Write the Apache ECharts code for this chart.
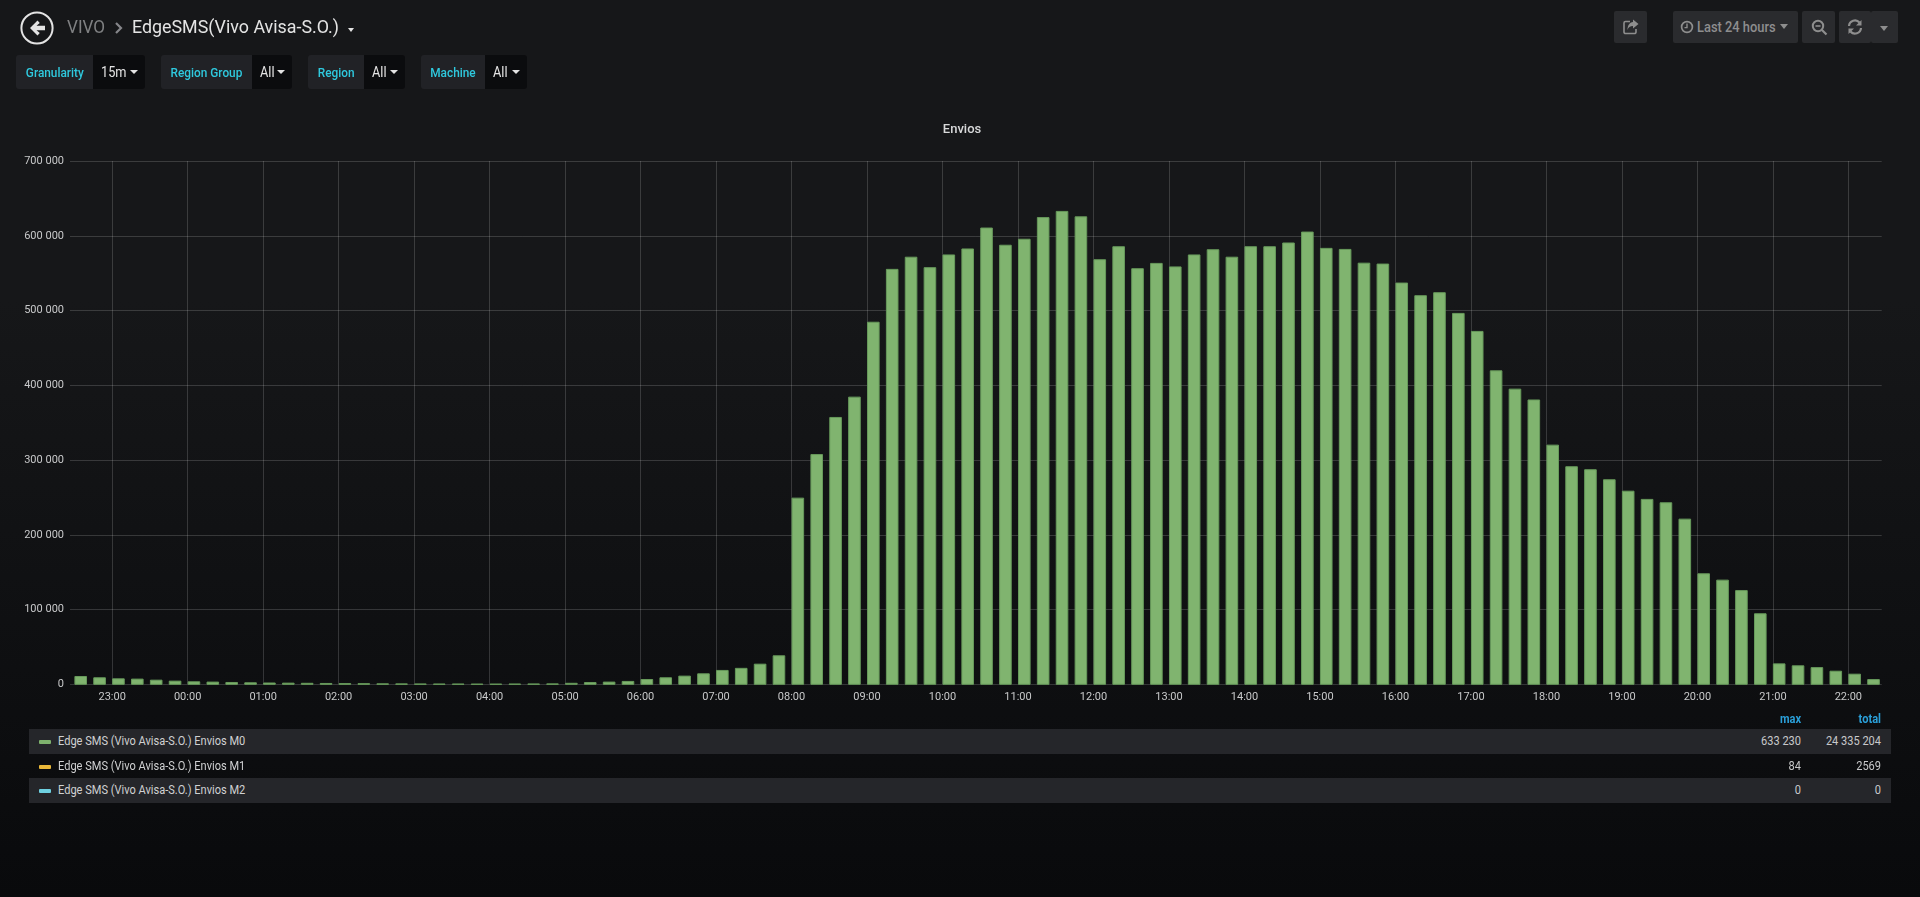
<!DOCTYPE html>
<html>
<head>
<meta charset="utf-8">
<script src="https://cdn.jsdelivr.net/npm/echarts@6/dist/echarts.min.js"></script>
<style>
html,body{margin:0;padding:0;width:1920px;height:897px;overflow:hidden;font-family:Roboto,sans-serif;
 background:linear-gradient(180deg,#161719 0,#161719 300px,#090a0c 897px);}
.abs{position:absolute;white-space:nowrap;}
#chart{position:absolute;left:0;top:0;width:1920px;height:897px;}
.lbl{background:#212226;color:#2fc9de;font-size:13px;font-weight:500;line-height:35px;height:34px;border-radius:3px 0 0 3px;top:55px;display:flex;justify-content:center;}
.lbl span,.val span{display:inline-block;transform:scaleX(.91);}
.lbl span{transform-origin:center;}
.val span{transform-origin:left;}
.val{background:#0b0c0e;color:#e4e4e4;font-size:14px;line-height:35px;height:34px;top:55px;border-radius:0 3px 3px 0;box-sizing:border-box;padding-left:8px;}
.caret{position:absolute;width:0;height:0;border-left:4.5px solid transparent;border-right:4.5px solid transparent;border-top:4.5px solid #e4e4e4;}
.btn{background:#2a2b2e;top:11px;height:32px;border-radius:2px;}
.row{left:29px;width:1862px;}
.rowtxt{font-size:12px;color:#d0d1d2;transform:scaleX(.92);transform-origin:left;}
.swatch{left:39px;width:12px;height:4px;border-radius:1px;}
.num{font-size:12px;color:#c8c9ca;text-align:right;transform:scaleX(.92);transform-origin:right;}
.hd{font-size:12px;font-weight:700;color:#2a9fd8;text-align:right;transform:scaleX(.92);transform-origin:right;}
.crumb{transform:scaleX(.95);transform-origin:left;}
</style>
</head>
<body>
<div id="chart"></div>
<div id="ui"></div>
<script>
// Data
const startLabel = "22:30";
const stepMinutes = 15;
const m0Values = [
 11100,9400,8000,7600,6200,4900,4000,3600,3100,2700,
 2400,2200,2000,1800,1600,1500,1300,1200,1100,1000,1000,900,900,1000,1100,1200,
 2000,3000,3600,4500,
 7100,9400,11600,14700,19200,22000,27600,38800,
 249700,308000,357600,384800,
 485000,555700,572000,558000,575000,583000,611000,588000,596000,625000,633230,626000,
 568600,586000,556600,563700,559000,575000,582000,572000,586000,586000,591000,605600,
 583800,582400,564000,562800,537400,520500,524500,496800,472700,420000,395500,381000,
 320600,291700,287700,274300,259000,248000,243500,221600,
 148500,140000,126000,95000,28000,25400,23000,18200,14200,7000
];
const m1Values = [];
const m2Values = [];
const yTicks = {min:0,max:700000,interval:100000};
const seriesNames = ["Edge SMS (Vivo Avisa-S.O.) Envios M0","Edge SMS (Vivo Avisa-S.O.) Envios M1","Edge SMS (Vivo Avisa-S.O.) Envios M2"];
const seriesColors = ["#7EB26D","#EAB839","#6ED0E0"];
const legendMax = ["633 230","84","0"];
const legendTotal = ["24 335 204","2569","0"];
const variables = [["Granularity","15m"],["Region Group","All"],["Region","All"],["Machine","All"]];
const panelTitle = "Envios";

// ---- dashboard chrome
const ui = document.getElementById('ui');
function add(html){ui.insertAdjacentHTML('beforeend',html);}
function box(cls,l,w,txt,extra){add(`<div class="abs ${cls}" style="left:${l}px;width:${w}px;${extra||''}">${txt?'<span>'+txt+'</span>':''}</div>`);}
// back button + breadcrumbs
add(`<svg class="abs" style="left:20px;top:11px" width="34" height="34" viewBox="0 0 34 34"><circle cx="17" cy="17" r="15.6" fill="none" stroke="#e3e3e3" stroke-width="2"/><path d="M17.5 9.5 L10 17 L17.5 24.5 L19.8 22 L16.5 19.3 L25 19.3 L25 14.7 L16.5 14.7 L19.8 12 Z" fill="#e3e3e3"/></svg>`);
add(`<div class="abs crumb" style="left:67px;top:15px;font-size:18px;line-height:24px;color:#7f8082">VIVO</div>`);
add(`<svg class="abs" style="left:114px;top:21px" width="10" height="14" viewBox="0 0 10 14"><path d="M2 2 L7 7 L2 12" fill="none" stroke="#85868a" stroke-width="2.2"/></svg>`);
add(`<div class="abs crumb" style="left:132px;top:15px;font-size:18.8px;line-height:24px;color:#e4e4e4">EdgeSMS(Vivo Avisa-S.O.)</div>`);
add(`<div class="caret" style="left:348px;top:28px;border-left-width:3.5px;border-right-width:3.5px;border-top-width:4px"></div>`);
// template variables
const varGeom = [[16,77,145],[161,91,292],[308,56,405],[421,63.5,526.5]];
variables.forEach((v,i)=>{
  const g=varGeom[i];
  box('lbl',g[0],g[1],v[0]);
  box('val',g[0]+g[1],g[2]-g[0]-g[1],v[1]);
  add(`<div class="caret" style="left:${g[2]-15}px;top:70px"></div>`);
});
// top right buttons
box('btn',1614,33);
box('btn',1673,125);
box('btn',1802,33);
box('btn',1839,32);
box('btn',1871,27);
add(`<svg class="abs" style="left:1622px;top:18px" width="18" height="18" viewBox="0 0 18 18"><path d="M8 3.5H3.5a1.5 1.5 0 0 0-1.5 1.5v9a1.5 1.5 0 0 0 1.5 1.5h9a1.5 1.5 0 0 0 1.5-1.5v-3" fill="none" stroke="#8e8e8e" stroke-width="1.6"/><path d="M11 1.5 L16.5 6 L11 10.5 V8 C8 8 6.5 9 5.5 12 C5.5 7.5 7.5 4.5 11 4 Z" fill="#8e8e8e"/></svg>`);
add(`<svg class="abs" style="left:1680px;top:20px" width="14" height="14" viewBox="0 0 14 14"><circle cx="7" cy="7" r="5.4" fill="none" stroke="#8e8e8e" stroke-width="1.7"/><path d="M7 3.5V7.6H4.5" fill="none" stroke="#8e8e8e" stroke-width="1.4"/></svg>`);
add(`<div class="abs" style="left:1697px;top:18px;font-size:14px;font-weight:500;line-height:18px;color:#8e8e8e;transform:scaleX(.92);transform-origin:left">Last 24 hours</div>`);
add(`<div class="caret" style="left:1780px;top:24px;border-top:5px solid #8e8e8e"></div>`);
add(`<svg class="abs" style="left:1811px;top:19px" width="17" height="17" viewBox="0 0 17 17"><circle cx="7" cy="7" r="5.2" fill="none" stroke="#8e8e8e" stroke-width="2"/><path d="M11 11 L15.5 15.5" stroke="#8e8e8e" stroke-width="2.2"/><path d="M4.5 7H9.5" stroke="#8e8e8e" stroke-width="1.6"/></svg>`);
add(`<svg class="abs" style="left:1847px;top:19px" width="16" height="16" viewBox="0 0 16 16"><path d="M2 7 A6 6 0 0 1 12.5 3.5" fill="none" stroke="#8e8e8e" stroke-width="2.2"/><path d="M14.5 1 V6.5 H9 Z" fill="#8e8e8e"/><path d="M14 9 A6 6 0 0 1 3.5 12.5" fill="none" stroke="#8e8e8e" stroke-width="2.2"/><path d="M1.5 15 V9.5 H7 Z" fill="#8e8e8e"/></svg>`);
add(`<div class="caret" style="left:1880px;top:26px;border-top:5px solid #8e8e8e"></div>`);
// legend table
add(`<div class="abs hd" style="left:1701px;width:100px;top:712px;line-height:15px">max</div>`);
add(`<div class="abs hd" style="left:1781px;width:100px;top:712px;line-height:15px">total</div>`);
const rowTop=[729,754,778], rowH=[25,24,25];
seriesNames.forEach((n,i)=>{
  if(i!==1) add(`<div class="abs row" style="top:${rowTop[i]}px;height:${rowH[i]}px;background:#25262a"></div>`);
  add(`<div class="abs swatch" style="top:${rowTop[i]+11}px;background:${seriesColors[i]}"></div>`);
  add(`<div class="abs rowtxt" style="left:58px;top:${rowTop[i]}px;line-height:24px">${n}</div>`);
  add(`<div class="abs num" style="left:1661px;width:140px;top:${rowTop[i]}px;line-height:24px">${legendMax[i]}</div>`);
  add(`<div class="abs num" style="left:1741px;width:140px;top:${rowTop[i]}px;line-height:24px">${legendTotal[i]}</div>`);
});

// ---- chart
const MIN = 60000;
const [sh,sm] = startLabel.split(':').map(Number);
const t0 = new Date(2020,0,14,sh,sm,0,0).getTime();
const times = m0Values.map((_,k)=>t0+k*stepMinutes*MIN);
const pairs = (arr)=>arr.map((v,k)=>[times[k],v]);
const fmtY = v => String(v).replace(/\B(?=(\d{3})+$)/g,' ');
const gridCol = 'rgba(255,255,255,0.16)';
// Grafana draws each bar starting at its timestamp, so the bar is left-aligned on the time scale
const barPx = 11.6;
const renderBar = (fill,stroke)=>(params,api)=>{
  const base = api.coord([api.value(0),0]);
  const top = api.coord([api.value(0),api.value(1)]);
  return {type:'rect',shape:{x:base[0]+0.5,y:top[1]+0.5,width:barPx,height:base[1]-top[1]-0.5},
          style:{fill:fill,stroke:stroke,lineWidth:1}};
};
const chart = echarts.init(document.getElementById('chart'),null,{renderer:'canvas',width:1920,height:897});
chart.setOption({
  animation:false,
  backgroundColor:'transparent',
  title:{text:panelTitle,left:957,top:118,textAlign:'center',textStyle:{color:'#d8d9da',fontFamily:'Roboto',fontSize:13,fontWeight:500}},
  grid:{left:70,top:161,width:1811.7,height:523.3,containLabel:false},
  xAxis:{type:'time',min:t0-3.5*MIN,max:t0+(24*60-3.5)*MIN,minInterval:3600000,maxInterval:3600000,
    axisLine:{show:false},axisTick:{show:false},
    axisLabel:{color:'#c8c9ca',fontFamily:'Roboto',fontSize:11,margin:7,hideOverlap:false,showMinLabel:false,showMaxLabel:false,
      formatter:(v)=>{const d=new Date(v);return String(d.getHours()).padStart(2,'0')+':'+String(d.getMinutes()).padStart(2,'0');}},
    splitLine:{show:true,showMinLine:false,showMaxLine:false,lineStyle:{color:gridCol,width:1}}},
  yAxis:{type:'value',min:yTicks.min,max:yTicks.max,interval:yTicks.interval,
    axisLine:{show:false},axisTick:{show:false},
    axisLabel:{color:'#c8c9ca',fontFamily:'Roboto',fontSize:11,margin:6,formatter:fmtY},
    splitLine:{show:true,lineStyle:{color:gridCol,width:1}}},
  series:[
    {name:seriesNames[0],type:'custom',data:pairs(m0Values),encode:{x:0,y:1},renderItem:renderBar('#80b46f','#679a5b')},
    {name:seriesNames[1],type:'custom',data:pairs(m1Values),encode:{x:0,y:1},renderItem:renderBar(seriesColors[1],seriesColors[1])},
    {name:seriesNames[2],type:'custom',data:pairs(m2Values),encode:{x:0,y:1},renderItem:renderBar(seriesColors[2],seriesColors[2])}
  ]
});
</script>
</body>
</html>
